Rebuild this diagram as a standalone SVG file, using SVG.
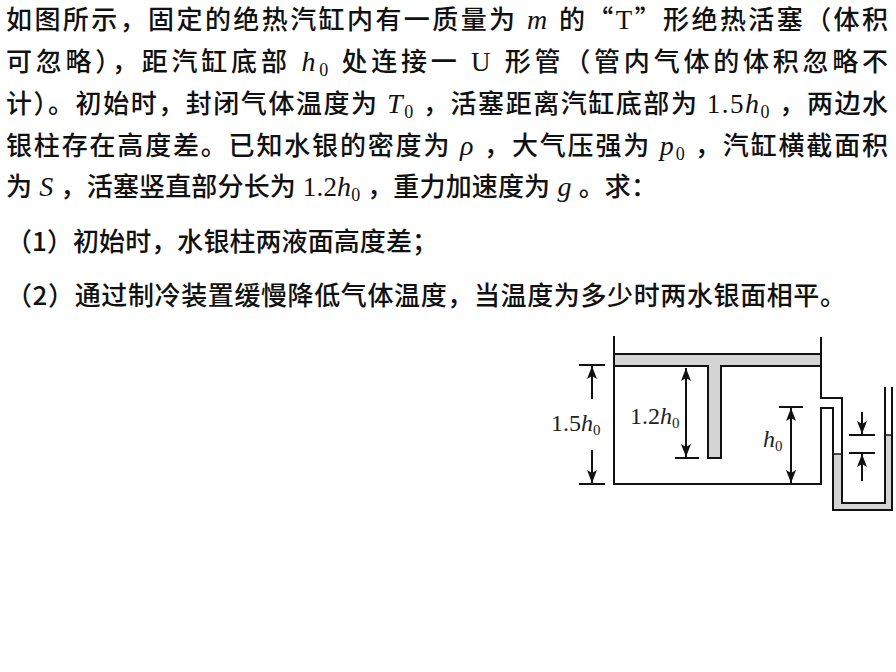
<svg xmlns="http://www.w3.org/2000/svg" width="896" height="672" viewBox="0 0 896 672">
<style>
.t{font-family:"Noto Sans CJK SC","Noto Sans CJK JP",sans-serif;font-size:26px;font-weight:500;fill:#111}
.mi{font-family:"Liberation Serif",serif;font-style:italic;font-weight:normal;font-size:28px}
.mu{font-family:"Liberation Serif",serif;font-style:normal;font-weight:normal;font-size:27px}
.sb{font-family:"Liberation Serif",serif;font-style:normal;font-weight:normal;font-size:18px}
.ln{stroke:#111;stroke-width:2;fill:none}
.thin{stroke:#111;stroke-width:1.5;fill:none}
.gray{fill:#d4d4d4}
.lbl{font-family:"Liberation Serif",serif;font-size:24px;fill:#222}
</style>
<defs>
<marker id="ah" viewBox="-13 -6 14 12" refX="0" refY="0" markerWidth="14" markerHeight="12" markerUnits="userSpaceOnUse" orient="auto">
<path d="M0,0 L-13,-5 L-10,0 L-13,5 Z" fill="#111"/>
</marker>
</defs>
<rect width="896" height="672" fill="#fff"/>
<g id="problem-text">
<text class="t" x="6" y="29" textLength="882" lengthAdjust="spacing">如图所示，固定的绝热汽缸内有一质量为<tspan class="mi"> m </tspan>的“<tspan class="mu">T</tspan>”形绝热活塞（体积</text>
<text class="t" x="6" y="71" textLength="882" lengthAdjust="spacing">可忽略），距汽缸底部<tspan class="mi"> h</tspan><tspan class="sb" dy="5">0</tspan><tspan dy="-5"> </tspan>处连接一<tspan class="mu"> U </tspan>形管（管内气体的体积忽略不</text>
<text class="t" x="6" y="113" textLength="882" lengthAdjust="spacing">计）。初始时，封闭气体温度为<tspan class="mi"> T</tspan><tspan class="sb" dy="5">0</tspan><tspan class="mu" dy="-5"> </tspan>，活塞距离汽缸底部为<tspan class="mu"> 1.5</tspan><tspan class="mi">h</tspan><tspan class="sb" dy="5">0</tspan><tspan class="mu" dy="-5"> </tspan>，两边水</text>
<text class="t" x="6" y="155" textLength="882" lengthAdjust="spacing">银柱存在高度差。已知水银的密度为<tspan class="mi"> ρ </tspan>，大气压强为<tspan class="mi"> p</tspan><tspan class="sb" dy="5">0</tspan><tspan class="mu" dy="-5"> </tspan>，汽缸横截面积</text>
<text class="t" x="6" y="196" textLength="651" lengthAdjust="spacing">为<tspan class="mi"> S </tspan>，活塞竖直部分长为<tspan class="mu"> 1.2</tspan><tspan class="mi">h</tspan><tspan class="sb" dy="5">0</tspan><tspan class="mu" dy="-5"> </tspan>，重力加速度为<tspan class="mi"> g </tspan>。求：</text>
<text class="t" x="6" y="251" textLength="432" lengthAdjust="spacing">（1）初始时，水银柱两液面高度差；</text>
<text class="t" x="6" y="305" textLength="840" lengthAdjust="spacing">（2）通过制冷装置缓慢降低气体温度，当温度为多少时两水银面相平。</text>
</g>
<g id="mercury">
<polygon class="gray" points="833,454 842,454 842,503 885,503 885,435 892,435 892,510 833,510"/>
<line class="thin" x1="833" y1="454" x2="842" y2="454"/>
<line class="thin" x1="885" y1="435" x2="892" y2="435"/>
</g>
<g id="cylinder">
<path class="ln" d="M614,336 V484 H821 V408 H833 V510 H892 V387"/>
<path class="ln" d="M821,337 V398 H842 V503 H885 V387"/>
</g>
<g id="piston">
<path class="gray" d="M614,354 H821 V366 H721 V458 H708 V366 H614 Z" stroke="#111" stroke-width="2"/>
</g>
<g id="connectors">
<line class="ln" x1="579" y1="365" x2="605" y2="365"/>
<line class="ln" x1="579" y1="484" x2="605" y2="484"/>
<line class="ln" x1="592" y1="399" x2="592" y2="366" marker-end="url(#ah)"/>
<line class="ln" x1="592" y1="450" x2="592" y2="483" marker-end="url(#ah)"/>
<line class="ln" x1="675" y1="458" x2="699" y2="458"/>
<line class="ln" x1="686" y1="412" x2="686" y2="368" marker-end="url(#ah)"/>
<line class="ln" x1="686" y1="412" x2="686" y2="457" marker-end="url(#ah)"/>
<line class="ln" x1="779" y1="407" x2="803" y2="407"/>
<line class="ln" x1="791" y1="445" x2="791" y2="408" marker-end="url(#ah)"/>
<line class="ln" x1="791" y1="445" x2="791" y2="483" marker-end="url(#ah)"/>
<line class="ln" x1="849" y1="435" x2="875" y2="435"/>
<line class="ln" x1="849" y1="453" x2="875" y2="453"/>
<line class="ln" x1="862" y1="412" x2="862" y2="434" marker-end="url(#ah)"/>
<line class="ln" x1="862" y1="481" x2="862" y2="454" marker-end="url(#ah)"/>
</g>
<g id="labels">
<text class="lbl" x="551" y="431">1.5<tspan font-style="italic">h</tspan><tspan font-size="15" dy="4">0</tspan></text>
<text class="lbl" x="630" y="424">1.2<tspan font-style="italic">h</tspan><tspan font-size="15" dy="4">0</tspan></text>
<text class="lbl" x="763" y="447"><tspan font-style="italic">h</tspan><tspan font-size="15" dy="4">0</tspan></text>
</g>
</svg>
